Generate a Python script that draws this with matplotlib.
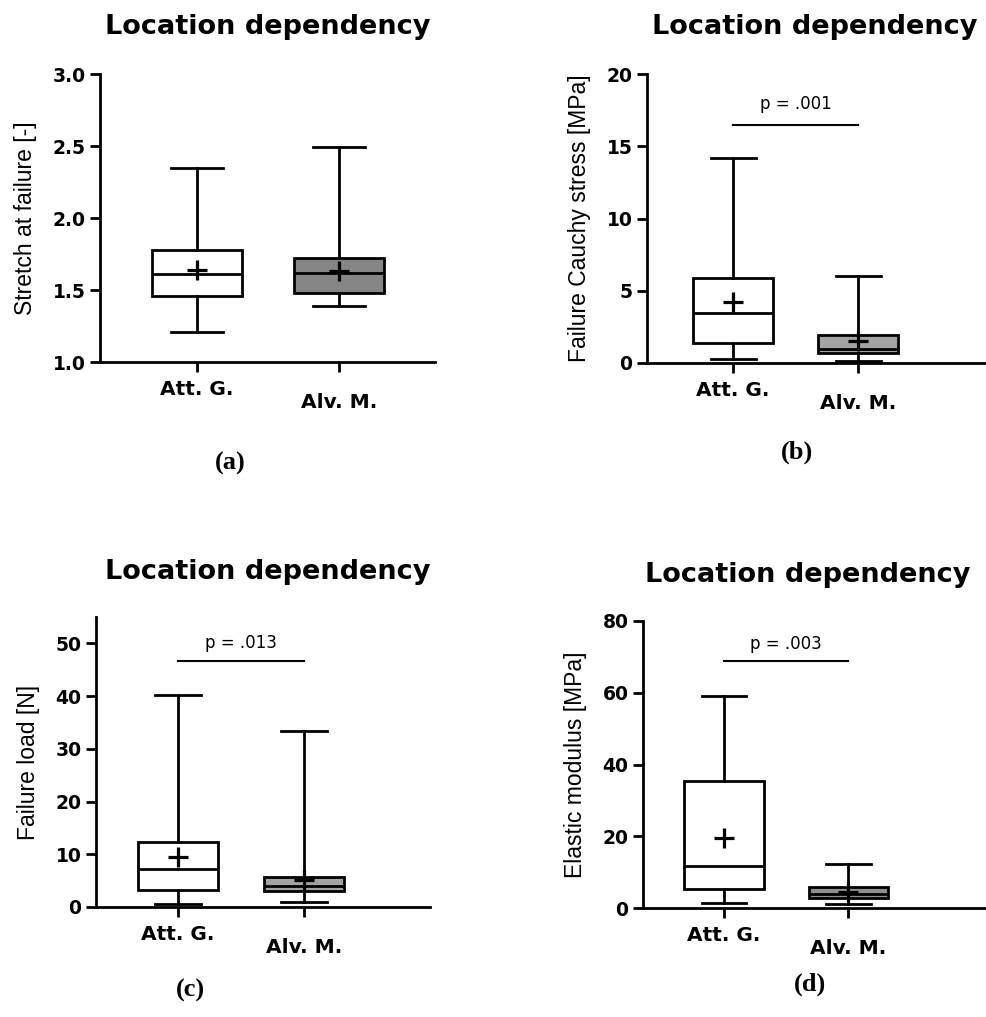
import matplotlib
matplotlib.use('Agg')
import matplotlib.pyplot as plt
import matplotlib.transforms as mtransforms

plt.rcParams['font.family'] = ['Liberation Sans', 'DejaVu Sans']

groups = ['Att. G.', 'Alv. M.']

# five-number summaries + mean: [whislo, q1, med, q3, whishi, mean]
stretch = [[1.21, 1.46, 1.61, 1.78, 2.35, 1.64],
           [1.39, 1.48, 1.62, 1.72, 2.49, 1.63]]
stress = [[0.3, 1.35, 3.45, 5.85, 14.2, 4.2],
          [0.15, 0.7, 1.0, 1.95, 6.0, 1.5]]
load = [[0.5, 3.3, 7.2, 12.3, 40.2, 9.4],
        [1.0, 3.0, 4.0, 5.6, 33.3, 5.1]]
modulus = [[1.5, 5.2, 11.8, 35.5, 59.2, 19.5],
           [1.1, 2.8, 4.0, 5.8, 12.3, 4.5]]

ylabels = ['Stretch at failure [-]', 'Failure Cauchy stress [MPa]',
           'Failure load [N]', 'Elastic modulus [MPa]']
ylims = [(1.0, 3.0), (0, 20), (0, 55), (0, 80)]
yticks = [[1.0, 1.5, 2.0, 2.5, 3.0], [0, 5, 10, 15, 20],
          [0, 10, 20, 30, 40, 50], [0, 20, 40, 60, 80]]
ytickfmt = ['{:.1f}', '{:.0f}', '{:.0f}', '{:.0f}']
pvals = [None, 'p = .001', 'p = .013', 'p = .003']
pline_y = [None, 16.5, 46.6, 68.9]
ptext_y = [None, 17.3, 48.3, 71.2]
fills = ['#858585', '#a3a3a3', '#a3a3a3', '#8f8f8f']
panel_names = ['(a)', '(b)', '(c)', '(d)']

BOLD = 'DejaVu Sans'

W, H = 987, 1017
fig = plt.figure(figsize=(W / 100, H / 100), dpi=100)

# axes boxes in pixels: left, right, top, bottom ; xlim
boxes = [(100, 435, 74, 362, (0.317, 2.676)),
         (647, 985, 74, 363, (0.312, 3.016)),
         (96, 430, 617, 907, (0.349, 3.0)),
         (643, 985, 621, 908, (0.347, 3.10))]
titles_xy = [(268, 27), (815, 27), (268, 572), (808, 575)]
labels_xy = [(230, 463), (797, 452), (190, 990), (810, 984)]

datasets = [stretch, stress, load, modulus]
for i, data in enumerate(datasets):
    l, r, t, b, xl = boxes[i]
    ax = fig.add_axes([l / W, 1 - b / H, (r - l) / W, (b - t) / H])
    stats = []
    for g, v in zip(groups, data):
        stats.append(dict(label=g, whislo=v[0], q1=v[1], med=v[2], q3=v[3],
                          whishi=v[4], mean=v[5], fliers=[]))
    bp = ax.bxp(stats, positions=[1, 2], widths=0.64, showmeans=True,
                patch_artist=True, capwidths=0.36,
                boxprops=dict(linewidth=2, edgecolor='black'),
                whiskerprops=dict(linewidth=2),
                capprops=dict(linewidth=2),
                medianprops=dict(color='black', linewidth=2),
                meanprops=dict(marker='+', markeredgecolor='black',
                               markersize=14, markeredgewidth=2.3))
    bp['boxes'][0].set_facecolor('white')
    bp['boxes'][1].set_facecolor(fills[i])
    ax.set_xlim(*xl)
    ax.set_ylim(*ylims[i])
    ax.set_yticks(yticks[i])
    ax.set_yticklabels([ytickfmt[i].format(y) for y in yticks[i]],
                       fontsize=13.5, fontweight='bold', family=BOLD)
    ax.set_xticks([1, 2])
    ax.set_xticklabels(groups, fontsize=14.5, fontweight='bold', family=BOLD)
    for sp in ['top', 'right']:
        ax.spines[sp].set_visible(False)
    for sp in ['left', 'bottom']:
        ax.spines[sp].set_linewidth(2)
    ax.tick_params(axis='both', width=2, length=7, direction='out')
    ax.tick_params(axis='x', pad=6)
    ax.set_ylabel(ylabels[i], fontsize=16.5, labelpad=11)
    # second group label sits a bit lower
    lab = ax.get_xticklabels()[1]
    lab.set_transform(lab.get_transform() +
                      mtransforms.ScaledTranslation(0, -0.13, fig.dpi_scale_trans))
    if pvals[i]:
        ax.plot([1, 2], [pline_y[i], pline_y[i]], color='black', linewidth=1.5)
        ax.text(1.5, ptext_y[i], pvals[i], ha='center', va='bottom',
                fontsize=12, family='DejaVu Sans')
    tx, ty = titles_xy[i]
    fig.text(tx / W, 1 - ty / H, 'Location dependency', ha='center', va='center',
             fontsize=19.5, fontweight='bold', family=BOLD)
    px, py = labels_xy[i]
    fig.text(px / W, 1 - py / H, panel_names[i], ha='center', va='center',
             fontsize=19, fontweight='bold', family='Liberation Serif')

plt.savefig('out.png', dpi=100)
plt.close()
